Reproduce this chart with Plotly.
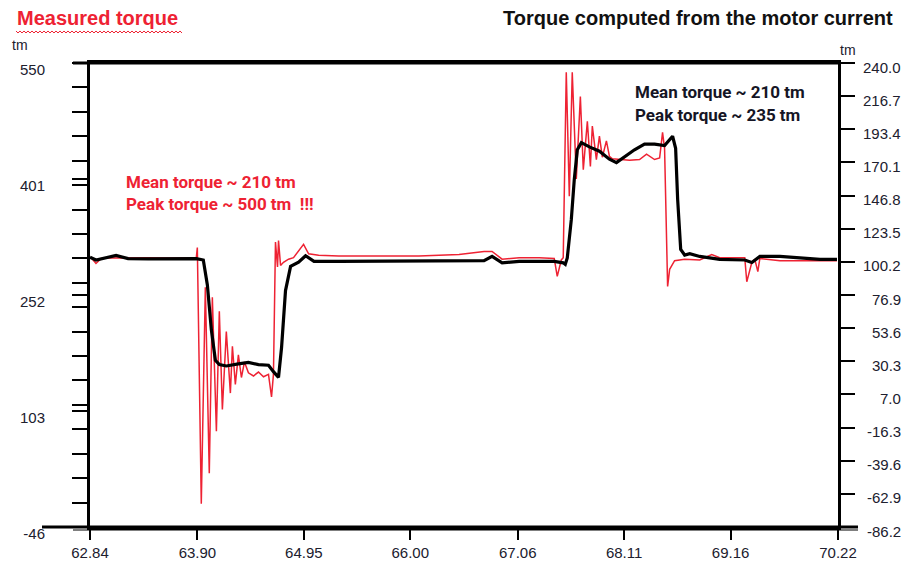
import plotly.graph_objects as go

# ---- data ----
measured_t = [62.840, 62.850, 62.899, 62.950, 63.018, 63.216, 63.414, 63.612, 63.800, 63.889,
              63.899, 63.938, 63.978, 64.017, 64.047, 64.087, 64.116, 64.146, 64.185, 64.225,
              64.245, 64.274, 64.304, 64.334, 64.364, 64.403, 64.453, 64.502, 64.552, 64.601,
              64.631, 64.650, 64.670, 64.690, 64.700, 64.720, 64.749, 64.799, 64.848, 64.947,
              64.997, 65.096, 65.294, 65.689, 66.085, 66.481, 66.629, 66.728, 66.807, 66.906,
              67.074, 67.272, 67.420, 67.450, 67.490, 67.509, 67.539, 67.569, 67.598, 67.638,
              67.678, 67.707, 67.747, 67.777, 67.796, 67.836, 67.866, 67.895, 67.935, 67.965,
              67.994, 68.064, 68.163, 68.262, 68.331, 68.410, 68.460, 68.489, 68.509, 68.539,
              68.559, 68.608, 68.707, 68.856, 68.974, 69.053, 69.300, 69.320, 69.370, 69.399,
              69.429, 69.449, 69.647, 69.844, 70.042, 70.210]
measured_tm = [298.5, 300.0, 292.5, 299.0, 299.5, 300.0, 300.0, 299.5, 300.0, 300.0,
               313.0, -16.0, 262.0, 23.0, 249.0, 77.0, 231.0, 105.0, 205.0, 126.0,
               186.0, 137.0, 175.0, 146.0, 166.0, 152.0, 148.0, 153.0, 147.0, 150.0,
               121.0, 150.0, 320.0, 288.0, 322.0, 290.0, 294.0, 298.0, 300.0, 317.0,
               305.0, 303.0, 302.0, 302.0, 302.0, 304.0, 306.0, 308.0, 308.0, 298.0,
               300.0, 300.0, 299.0, 276.0, 297.0, 300.0, 538.0, 379.0, 538.0, 401.0,
               507.0, 413.0, 475.0, 417.0, 469.0, 426.0, 456.0, 429.0, 450.0, 430.0,
               427.0, 426.0, 425.0, 426.0, 433.0, 426.0, 428.0, 461.0, 440.0, 263.0,
               285.0, 296.0, 298.0, 297.0, 304.0, 300.0, 300.0, 269.0, 294.0, 298.0,
               282.0, 299.0, 296.0, 296.0, 296.0, 296.0]

computed_t = [62.840, 62.899, 63.097, 63.216, 63.414, 63.612, 63.889, 63.958, 63.998, 64.037,
              64.077, 64.116, 64.185, 64.304, 64.403, 64.502, 64.601, 64.650, 64.700, 64.730,
              64.769, 64.819, 64.898, 64.967, 65.050, 65.294, 65.689, 66.481, 66.728, 66.807,
              66.906, 67.074, 67.420, 67.509, 67.529, 67.549, 67.589, 67.618, 67.648, 67.688,
              67.767, 67.866, 67.965, 68.034, 68.113, 68.212, 68.311, 68.410, 68.509, 68.559,
              68.588, 68.618, 68.638, 68.668, 68.707, 68.757, 68.856, 69.053, 69.300, 69.370,
              69.449, 69.647, 69.844, 70.042, 70.210]
computed_tm = [103.5, 101.5, 104.7, 102.5, 102.3, 102.3, 102.5, 101.5, 84.0, 52.6,
               31.0, 28.0, 27.0, 28.5, 29.5, 28.0, 27.5, 23.0, 19.0, 40.0,
               80.0, 97.0, 100.0, 104.5, 100.5, 100.5, 100.5, 100.5, 101.0, 104.0,
               99.5, 100.5, 100.5, 99.5, 98.4, 103.0, 130.0, 158.0, 179.0, 184.0,
               181.0, 178.0, 172.4, 170.0, 174.0, 179.0, 183.0, 183.0, 182.0, 186.5,
               188.5, 180.0, 144.0, 109.0, 105.0, 106.0, 104.0, 102.0, 101.5, 99.8,
               104.0, 104.0, 103.0, 102.0, 102.0]

x_ticks = [62.84, 63.90, 64.95, 66.00, 67.06, 68.11, 69.16, 70.22]
x_tick_labels = ["62.84", "63.90", "64.95", "66.00", "67.06", "68.11", "69.16", "70.22"]
left_ticks = [550, 401, 252, 103, -46]
left_tick_labels = ["550", "401", "252", "103", "-46"]
right_ticks = [240.0, 216.7, 193.4, 170.1, 146.8, 123.5, 100.2, 76.9, 53.6, 30.3, 7.0,
               -16.3, -39.6, -62.9, -86.2]
right_tick_labels = ["240.0", "216.7", "193.4", "170.1", "146.8", "123.5", "100.2", "76.9",
                     "53.6", "30.3", "7.0", "-16.3", "-39.6", "-62.9", "-86.2"]

RED = "#ee2233"
TICKCOL = "#20202e"
FONT = "Liberation Sans, Arial, sans-serif"
BOLDFONT = "Liberation Sans, Arial, sans-serif"
NARROW = "Roboto, sans-serif"

fig = go.Figure()
fig.add_trace(go.Scatter(x=computed_t, y=computed_tm, yaxis="y2", mode="lines",
                         line=dict(color="black", width=3.2), name="computed"))
fig.add_trace(go.Scatter(x=measured_t, y=measured_tm, yaxis="y", mode="lines",
                         line=dict(color=RED, width=1.5), name="measured"))

W, H = 912, 566
L, R, T, B = 90, 74, 63, 39
pw = W - L - R
ph = H - T - B

def px_x(p):
    return (p - L) / pw

def px_y(p):
    return 1 - (p - T) / ph

fig.update_layout(
    width=W, height=H,
    margin=dict(l=L, r=R, t=T, b=B, autoexpand=False),
    paper_bgcolor="white", plot_bgcolor="white",
    showlegend=False,
    font=dict(family=FONT, size=14, color=TICKCOL),
    xaxis=dict(range=[62.84, 70.22], tickvals=x_ticks, ticktext=x_tick_labels,
               ticks="outside", ticklen=10, tickwidth=2, tickcolor="black",
               showline=True, linecolor="black", linewidth=3, mirror=True,
               showgrid=False, zeroline=False, tickfont=dict(size=15, color=TICKCOL),
               ticklabelstandoff=0, automargin=False),
    yaxis=dict(range=[-46, 550], tickvals=left_ticks, ticktext=left_tick_labels,
               ticks="outside", ticklen=15, tickwidth=2, tickcolor="black",
               minor=dict(tickmode="linear", tick0=-46, dtick=596 / 19, ticks="outside",
                          ticklen=15, tickwidth=2, tickcolor="black", showgrid=False),
               showline=True, linecolor="black", linewidth=3, mirror=False,
               showgrid=False, zeroline=False, tickfont=dict(size=15, color=TICKCOL),
               ticklabelstandoff=24, ticklabelshift=7, automargin=False),
    yaxis2=dict(range=[-86.2, 240.0], tickvals=right_ticks, overlaying="y", side="right",
                ticks="outside", ticklen=14, tickwidth=2, tickcolor="black",
                showticklabels=False, showline=True, linecolor="black", linewidth=3,
                showgrid=False, zeroline=False, automargin=False),
)

ann = []
for v, s in zip(right_ticks, right_tick_labels):
    ann.append(dict(x=px_x(903), xref="paper", y=v, yref="y2", text=s, showarrow=False,
                    xanchor="right", yanchor="middle", yshift=-4,
                    font=dict(family=FONT, size=15, color=TICKCOL)))

ann += [
    dict(x=px_x(10), y=px_y(45), xref="paper", yref="paper", text="tm", showarrow=False,
         xanchor="left", yanchor="middle", font=dict(family=FONT, size=14, color=TICKCOL)),
    dict(x=px_x(838), y=px_y(50), xref="paper", yref="paper", text="tm", showarrow=False,
         xanchor="left", yanchor="middle", font=dict(family=FONT, size=14, color=TICKCOL)),
    dict(x=px_x(15), y=px_y(18), xref="paper", yref="paper", text="<b>Measured torque</b>",
         showarrow=False, xanchor="left", yanchor="middle",
         font=dict(family=BOLDFONT, size=20, color=RED)),
    dict(x=px_x(895), y=px_y(18), xref="paper", yref="paper",
         text="<b>Torque computed from the motor current</b>",
         showarrow=False, xanchor="right", yanchor="middle",
         font=dict(family=BOLDFONT, size=20, color="#111111")),
    dict(x=px_x(124), y=px_y(182), xref="paper", yref="paper",
         text="<b>Mean torque ~ 210 tm</b>", showarrow=False, xanchor="left",
         yanchor="middle", font=dict(family=NARROW, size=17, color=RED)),
    dict(x=px_x(124), y=px_y(204), xref="paper", yref="paper",
         text="<b>Peak torque ~ 500 tm  !!!</b>", showarrow=False, xanchor="left",
         yanchor="middle", font=dict(family=NARROW, size=17, color=RED)),
    dict(x=px_x(633), y=px_y(92), xref="paper", yref="paper",
         text="<b>Mean torque ~ 210 tm</b>", showarrow=False, xanchor="left",
         yanchor="middle", font=dict(family=NARROW, size=17, color="#151525")),
    dict(x=px_x(633), y=px_y(115), xref="paper", yref="paper",
         text="<b>Peak torque ~ 235 tm</b>", showarrow=False, xanchor="left",
         yanchor="middle", font=dict(family=NARROW, size=17, color="#151525")),
]

# decorative frame extensions and the wavy underline
shapes = [
    dict(type="line", xref="paper", yref="paper", x0=px_x(73), x1=px_x(840),
         y0=1, y1=1, line=dict(color="black", width=3)),
    dict(type="line", xref="paper", yref="paper", x0=px_x(42), x1=px_x(858),
         y0=0, y1=0, line=dict(color="black", width=3)),
    dict(type="line", xref="paper", yref="paper", x0=px_x(73), x1=px_x(858),
         y0=px_y(530), y1=px_y(530), line=dict(color="black", width=1)),
]
zig = []
x = 16
up = True
while x <= 182:
    zig.append(f"{px_x(x):.5f},{px_y(31 if up else 33):.5f}")
    x += 2
    up = not up
path = "M " + " L ".join(zig)
shapes.append(dict(type="path", xref="paper", yref="paper", path=path,
                   line=dict(color=RED, width=1)))

fig.update_layout(annotations=ann, shapes=shapes)
fig.write_html("out.html")
